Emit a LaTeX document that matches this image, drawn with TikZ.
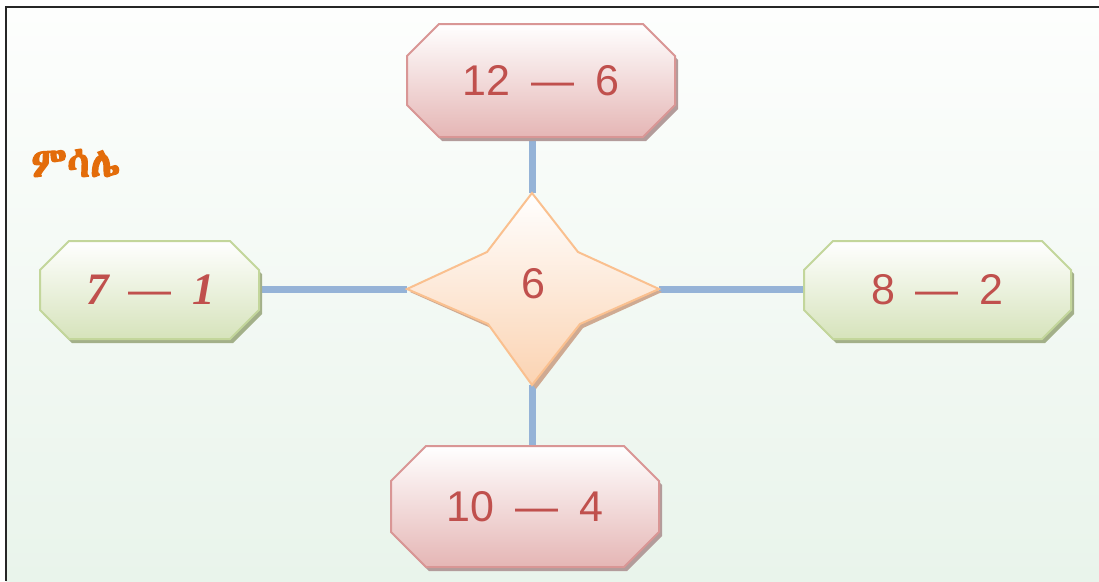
\documentclass[tikz,border=0pt]{standalone}
\usepackage{fontspec}
\setmainfont{Liberation Sans}
\newfontfamily\timesf{Liberation Serif}
\IfFontExistsTF{Abyssinica SIL}{\newfontfamily\ethf[AutoFakeBold=2.5]{Abyssinica SIL}}{%
  \IfFontExistsTF{FreeSerif}{\newfontfamily\ethf[AutoFakeBold=2.5]{FreeSerif}}{\newfontfamily\ethf{DejaVu Sans}}}
\usetikzlibrary{calc}
\definecolor{bgtop}{HTML}{FDFEFD}
\definecolor{bgbot}{HTML}{E9F4EB}
\definecolor{txtred}{HTML}{C0504D}
\definecolor{pinkline}{HTML}{D99695}
\definecolor{pinkbot}{HTML}{E5B6B5}
\definecolor{pinkshadow}{HTML}{B39C9B}
\definecolor{greenline}{HTML}{C3D69B}
\definecolor{greenbot}{HTML}{D6E3BB}
\definecolor{greenshadow}{HTML}{A3B089}
\definecolor{starline}{HTML}{FAC08F}
\definecolor{starbot}{HTML}{FBD3B2}
\definecolor{starshadow}{HTML}{CFAA92}
\definecolor{conn}{HTML}{95B3D7}
\definecolor{ethorange}{HTML}{E36C0A}
\newcommand\octpath[4]{($(#1.north west)+(#2+#3,#4)$) -- ($(#1.north east)+(-#2+#3,#4)$) -- ($(#1.north east)+(#3,#2+#4)$) -- ($(#1.south east)+(#3,-#2+#4)$) -- ($(#1.south east)+(-#2+#3,#4)$) -- ($(#1.south west)+(#2+#3,#4)$) -- ($(#1.south west)+(#3,-#2+#4)$) -- ($(#1.north west)+(#3,#2+#4)$) -- cycle}
\tikzset{
  holder/.style={rectangle, inner sep=0pt, outer sep=0pt},
  pinkbox/.style={draw=pinkline, line width=2pt, top color=white, bottom color=pinkbot},
  greenbox/.style={draw=greenline, line width=2pt, top color=white, bottom color=greenbot},
  connector/.style={draw=conn, line width=7pt},
  lbl/.style={text=txtred, font=\fontsize{43pt}{50pt}\selectfont, inner sep=0pt},
}
\begin{document}
\begin{tikzpicture}[x=1pt,y=-1pt]
\useasboundingbox (0,0) rectangle (1099,581);
\fill[white] (0,0) rectangle (1099,581);
\shade[top color=bgtop, bottom color=bgbot] (6,7) rectangle (1099,581);
\draw[line width=1.4pt, black!85] (6,581) -- (6,7) -- (1099,7);

% holders
\node[holder, minimum width=268pt, minimum height=113pt] (t) at (541,80.5) {};
\node[holder, minimum width=268pt, minimum height=121pt] (b) at (525,506.5) {};
\node[holder, minimum width=219pt, minimum height=98pt] (l) at (149.5,290) {};
\node[holder, minimum width=267pt, minimum height=98pt] (r) at (937.5,290) {};
\coordinate (s) at (532,288);
\coordinate (s-n) at (532,193);
\coordinate (s-s) at (532,385);
\coordinate (s-w) at (407,289);
\coordinate (s-e) at (659,289);

% connectors
\draw[connector] (s-n) -- (s-n |- t.south);
\draw[connector] (s-s) -- (s-s |- b.north);
\draw[connector] (s-w) -- (s-w -| l.east);
\draw[connector] (s-e) -- (s-e -| r.west);

% shadows
\fill[pinkshadow] \octpath{t}{32}{3}{4};
\fill[pinkshadow] \octpath{b}{35}{3}{4};
\fill[greenshadow] \octpath{l}{29}{3}{4};
\fill[greenshadow] \octpath{r}{29}{3}{4};
\fill[starshadow] (535,197) -- (581,256) -- (662,292) -- (583,328) -- (536,389) -- (491,328) -- (410,292) -- (490,256) -- cycle;

% shapes
\path[pinkbox] \octpath{t}{32}{0}{0};
\path[pinkbox] \octpath{b}{35}{0}{0};
\path[greenbox] \octpath{l}{29}{0}{0};
\path[greenbox] \octpath{r}{29}{0}{0};
\path[draw=starline, line width=2pt, top color=white, bottom color=starbot]
  (s-n) -- (578,252) -- (s-e) -- (580,324) -- (s-s) -- (488,324) -- (s-w) -- (487,252) -- cycle;

% labels
\node[lbl] (t-lbl) at (t) {12\hspace{0.48em}—\hspace{0.48em}6};
\node[lbl] (b-lbl) at (b) {10\hspace{0.48em}—\hspace{0.48em}4};
\node[lbl] (r-lbl) at (r) {8\hspace{0.48em}—\hspace{0.48em}2};
\node[lbl] (l-lbl) at (151,290) {{\timesf\bfseries\itshape\fontsize{45pt}{50pt}\selectfont 7}\hspace{0.45em}—\hspace{0.5em}{\timesf\bfseries\itshape\fontsize{45pt}{50pt}\selectfont 1}};
\node[lbl] (s-lbl) at (533,284) {6};
\node[anchor=west, inner sep=0pt, text=ethorange, font=\ethf\bfseries\fontsize{42pt}{48pt}\selectfont] (title) at (31,163) {ምሳሌ};
\end{tikzpicture}
\end{document}
